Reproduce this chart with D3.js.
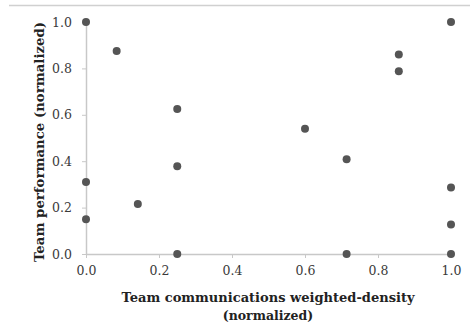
<!DOCTYPE html>
<html>
<head>
<meta charset="utf-8">
<script src="https://cdn.jsdelivr.net/npm/d3@7"></script>
<style>
  html, body { margin: 0; padding: 0; background: #fff; }
  svg { display: block; }
</style>
</head>
<body>
<svg id="chart" width="474" height="326"></svg>
<script>
// Data: team communications weighted-density (x) vs team performance (y), both normalized
const density =     [0.00, 0.084, 0.00, 0.00, 0.142, 0.25, 0.25, 0.25, 0.60, 0.714, 0.714, 0.857, 0.857, 1.00, 1.00, 1.00, 1.00];
const performance = [1.00, 0.875, 0.31, 0.15, 0.215, 0.625, 0.378, 0.00, 0.54, 0.408, 0.00, 0.86, 0.788, 1.00, 0.287, 0.127, 0.00];
const xTicks = [0, 0.2, 0.4, 0.6, 0.8, 1.0];
const yTicks = [0, 0.2, 0.4, 0.6, 0.8, 1.0];
const xTitle = ["Team communications weighted-density", "(normalized)"];
const yTitle = "Team performance (normalized)";

const svg = d3.select("#chart");
const axisColor = "#c8c8c8";
const textColor = "#3a3a3a";
const serif = "'DejaVu Serif', 'Liberation Serif', serif";

// top border line
svg.append("line")
  .attr("x1", 9).attr("x2", 470).attr("y1", 5.5).attr("y2", 5.5)
  .attr("stroke", "#d0d0d0").attr("stroke-width", 1.5);

const x = d3.scaleLinear().domain([0, 1]).range([86, 451]);
const y = d3.scaleLinear().domain([0, 1]).range([254, 22]);

const xAxis = svg.append("g")
  .attr("transform", `translate(0,${y(0)})`)
  .call(d3.axisBottom(x).tickValues(xTicks).tickFormat(d3.format(".1f")).tickSize(4).tickSizeOuter(0).tickPadding(8));
const yAxis = svg.append("g")
  .attr("transform", `translate(${x(0)},0)`)
  .call(d3.axisLeft(y).tickValues(yTicks).tickFormat(d3.format(".1f")).tickSize(4).tickSizeOuter(0).tickPadding(10));

[xAxis, yAxis].forEach(g => {
  g.select(".domain").attr("stroke", axisColor).attr("stroke-width", 1.5);
  g.selectAll(".tick line").attr("stroke", axisColor).attr("stroke-width", 1);
  g.selectAll(".tick text").attr("fill", textColor)
    .style("font-family", serif).style("font-size", "12.5px");
});

// points
svg.append("g").selectAll("circle")
  .data(density.map((d, i) => [d, performance[i]]))
  .join("circle")
  .attr("cx", d => x(d[0]))
  .attr("cy", d => y(d[1]))
  .attr("r", 4)
  .attr("fill", "#555");

// axis titles
const xt = svg.append("text")
  .attr("text-anchor", "middle")
  .attr("fill", "#222")
  .style("font-family", serif).style("font-size", "12.5px").style("font-weight", "bold");
xt.append("tspan").attr("x", 268).attr("y", 302).attr("textLength", 293).attr("lengthAdjust", "spacingAndGlyphs").text(xTitle[0]);
xt.append("tspan").attr("x", 268).attr("y", 320).text(xTitle[1]);

svg.append("text")
  .attr("transform", `translate(44,142) rotate(-90)`)
  .attr("text-anchor", "middle")
  .attr("fill", "#222")
  .attr("textLength", 240).attr("lengthAdjust", "spacingAndGlyphs")
  .style("font-family", serif).style("font-size", "13px").style("font-weight", "bold")
  .text(yTitle);
</script>
</body>
</html>
